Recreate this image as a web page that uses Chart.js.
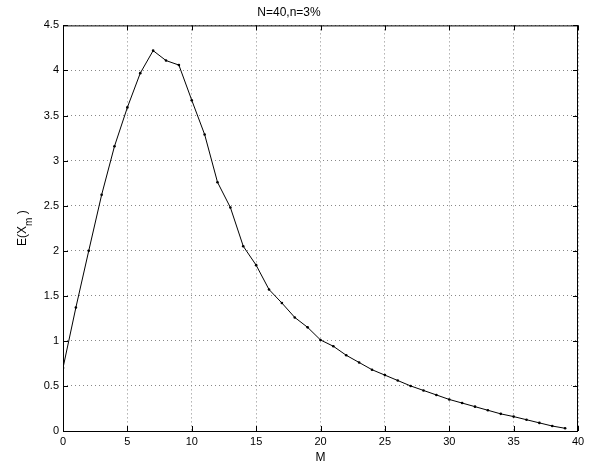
<!DOCTYPE html>
<html>
<head>
<meta charset="utf-8">
<script src="https://cdn.jsdelivr.net/npm/chart.js@4.4.1/dist/chart.umd.min.js"></script>
<style>
  html, body { margin: 0; padding: 0; background: #fff; }
  #wrap { width: 595px; height: 468px; position: relative; }
</style>
</head>
<body>
<div id="wrap"><canvas id="chart"></canvas></div>
<script>
// valeurs
const mValues = [0,1,2,3,4,5,6,7,8,9,10,11,12,13,14,15,16,17,18,19,20,21,22,23,24,25,26,27,28,29,30,31,32,33,34,35,36,37,38,39];
const expValues = [0.70,1.37,2.00,2.62,3.16,3.59,3.97,4.22,4.11,4.06,3.67,3.29,2.76,2.48,2.05,1.84,1.57,1.42,1.26,1.15,1.01,0.94,0.84,0.76,0.68,0.62,0.56,0.50,0.45,0.40,0.35,0.31,0.27,0.23,0.19,0.16,0.125,0.09,0.055,0.03];
const xTicks = [0,5,10,15,20,25,30,35,40];
const yTicks = [0,0.5,1,1.5,2,2.5,3,3.5,4,4.5];
const titleText = 'N=40,n=3%';
const xLabel = 'M';

const FONT = 'Liberation Sans, Arial, Helvetica, sans-serif';

// cadre + petites graduations vers l'intérieur + titre de l'axe y avec indice
const framePlugin = {
  id: 'frame',
  afterDraw(chart) {
    const { ctx, chartArea: a, scales } = chart;
    ctx.save();
    ctx.strokeStyle = '#000';
    ctx.lineWidth = 1;
    ctx.strokeRect(a.left + 0.5, a.top + 0.5, a.right - a.left - 1, a.bottom - a.top);
    const len = 5;
    ctx.beginPath();
    xTicks.forEach(v => {
      const x = Math.round(scales.x.getPixelForValue(v)) + 0.5;
      ctx.moveTo(x, a.bottom); ctx.lineTo(x, a.bottom - len);
      ctx.moveTo(x, a.top); ctx.lineTo(x, a.top + len);
    });
    yTicks.forEach(v => {
      const y = Math.round(scales.y.getPixelForValue(v)) + 0.5;
      ctx.moveTo(a.left, y); ctx.lineTo(a.left + len, y);
      ctx.moveTo(a.right, y); ctx.lineTo(a.right - len, y);
    });
    ctx.stroke();

    // E(X_m )
    const cy = (a.top + a.bottom) / 2;
    ctx.translate(26, cy);
    ctx.rotate(-Math.PI / 2);
    ctx.fillStyle = '#000';
    ctx.textBaseline = 'alphabetic';
    const p1 = 'E(X', p3 = ' )';
    ctx.font = '10px ' + FONT;
    const wm = ctx.measureText('m').width;
    ctx.font = '12px ' + FONT;
    const w1 = ctx.measureText(p1).width, w3 = ctx.measureText(p3).width;
    let x0 = -(w1 + wm + w3) / 2;
    ctx.fillText(p1, x0, 0);
    ctx.font = '10px ' + FONT;
    ctx.fillText('m', x0 + w1, 6);
    ctx.font = '12px ' + FONT;
    ctx.fillText(p3, x0 + w1 + wm, 0);
    ctx.restore();
  }
};

const gridOpts = { color: '#888', drawTicks: false, lineWidth: 1 };
const borderOpts = { display: false, dash: [1, 3] };

new Chart(document.getElementById('chart'), {
  type: 'scatter',
  data: {
    datasets: [{
      data: mValues.map((m, i) => ({ x: m, y: expValues[i] })),
      showLine: true,
      borderColor: '#000',
      backgroundColor: '#000',
      borderWidth: 1,
      pointRadius: 1.3,
      pointHoverRadius: 1.3,
      pointBorderWidth: 0,
      tension: 0
    }]
  },
  options: {
    responsive: true,
    maintainAspectRatio: false,
    animation: false,
    layout: { padding: { left: 0, right: 17, top: 0, bottom: 0 } },
    plugins: {
      legend: { display: false },
      tooltip: { enabled: false },
      title: {
        display: true,
        text: titleText,
        color: '#000',
        font: { family: FONT, size: 12, weight: 'normal' },
        padding: { top: 5, bottom: 6 }
      }
    },
    scales: {
      x: {
        type: 'linear',
        min: 0, max: 40,
        afterFit(s) { s.height = 37; },
        afterBuildTicks(s) { s.ticks = xTicks.map(v => ({ value: v })); },
        border: borderOpts,
        grid: gridOpts,
        ticks: { color: '#000', padding: 4, font: { family: FONT, size: 11 }, callback: v => String(v) },
        title: {
          display: true, text: xLabel, color: '#000',
          font: { family: FONT, size: 12 },
          padding: { top: 0, bottom: 3 }
        }
      },
      y: {
        min: 0, max: 4.5,
        afterFit(s) { s.width = 63; },
        afterBuildTicks(s) { s.ticks = yTicks.map(v => ({ value: v })); },
        border: borderOpts,
        grid: gridOpts,
        ticks: { color: '#000', padding: 4, font: { family: FONT, size: 11 }, callback: v => String(v) }
      }
    }
  },
  plugins: [framePlugin]
});
</script>
</body>
</html>
